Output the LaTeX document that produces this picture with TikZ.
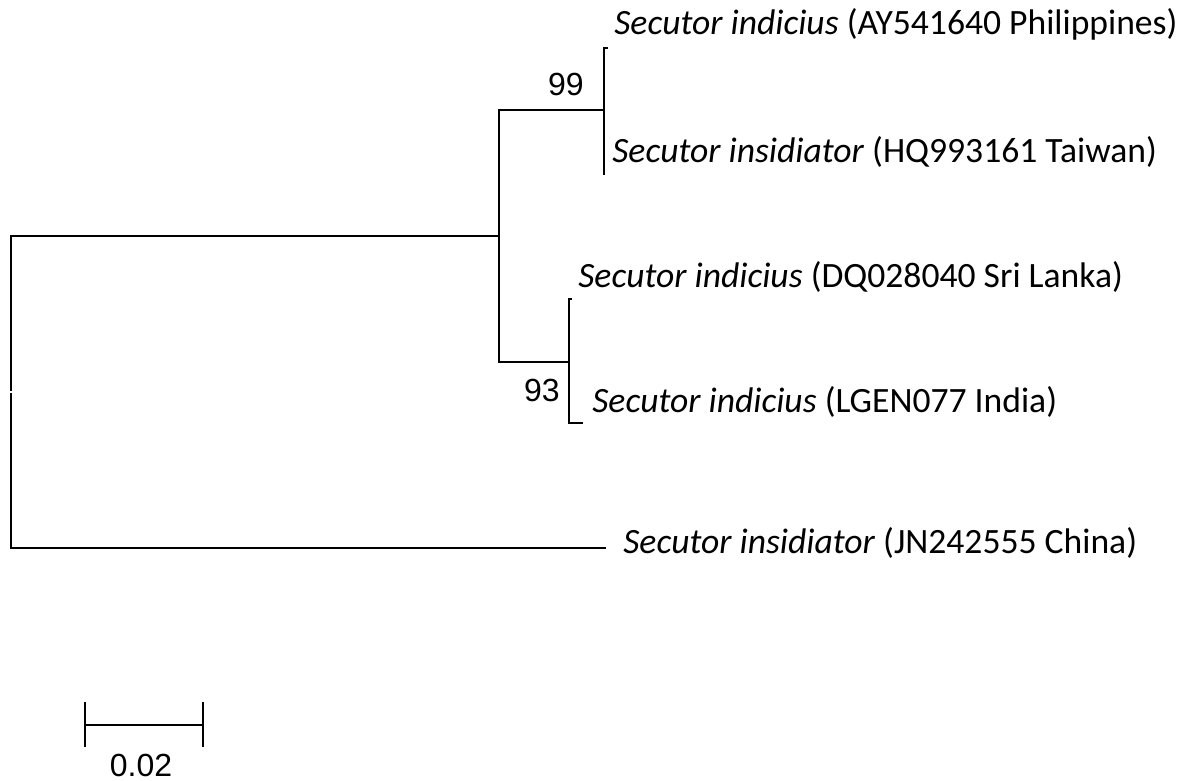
\documentclass[tikz,border=0pt]{standalone}
\usepackage{fontspec}
\setmainfont{Carlito}
\newfontfamily\numfont{Liberation Sans}
\usepackage{tikz}
\tikzset{% change default arrow tips
    >=latex
}

\begin{document}
\begin{tikzpicture}[x=0.5pt,y=-0.5pt]
    		\newcommand{\gen}{Secutor}
    		\newcommand{\lw}{1.1pt} % width of the branches
    		\newcommand{\fs}{\fontsize{17.8}{20}\selectfont}

    		% set the style of the branches and labels
    		\tikzset{
    			branch/.style={
    				line width=\lw,
    				line cap=rect
    				},
    			taxon/.style={
    				anchor=west,
    				inner sep=0pt,
    				font=\fs
    				},
    			boot/.style={
    				inner sep=0pt,
    				font=\numfont\fontsize{16}{18}\selectfont
    				}
    		}

    		\useasboundingbox (0,0) rectangle (1191,781);

    		% internal nodes
    		\coordinate (root) at (11,392);
    		\coordinate (nA) at (499,236);
    		\coordinate (nB) at (604,110);
    		\coordinate (nC) at (569,362);

    		% tips
    		\coordinate (t1) at (607,48);
    		\coordinate (t2) at (604,174);
    		\coordinate (t3) at (571,299);
    		\coordinate (t4) at (582,423);
    		\coordinate (t5) at (605,548);

    		% branches
    		\draw[branch, shorten <=1pt] (root) |- (nA);
    		\draw[branch, shorten <=1pt] (root) |- (t5);
    		\draw[branch] (nA) |- (nB);
    		\draw[branch] (nA) |- (nC);
    		\draw[branch] (nB) |- (t1);
    		\draw[branch] (nB) |- (t2);
    		\draw[branch] (nC) |- (t3);
    		\draw[branch] (nC) |- (t4);

    		% taxon names
    		\node[taxon] (l1) at (614,24) {\textit{\gen{} indicius} (AY541640 Philippines)};
    		\node[taxon] (l2) at (612,152) {\textit{\gen{} insidiator} (HQ993161 Taiwan)};
    		\node[taxon] (l3) at (578,277) {\textit{\gen{} indicius} (DQ028040 Sri Lanka)};
    		\node[taxon] (l4) at (592,402) {\textit{\gen{} indicius} (LGEN077 India)};
    		\node[taxon] (l5) at (623,543) {\textit{\gen{} insidiator} (JN242555 China)};

    		% bootstrap values
    		\node[boot] (b99) at (566,84) {99};
    		\node[boot] (b93) at (542,390) {93};

    		% scale bar
    		\coordinate (sL) at (85,725);
    		\coordinate (sR) at (203,725);
    		\draw[branch] (sL) -- (sR);
    		\draw[branch] ([yshift=11pt]sL) -- ([yshift=-10.5pt]sL);
    		\draw[branch] ([yshift=11pt]sR) -- ([yshift=-10.5pt]sR);
    		\node[boot] (sc) at (141,765) {0.02};
\end{tikzpicture}
\end{document}
